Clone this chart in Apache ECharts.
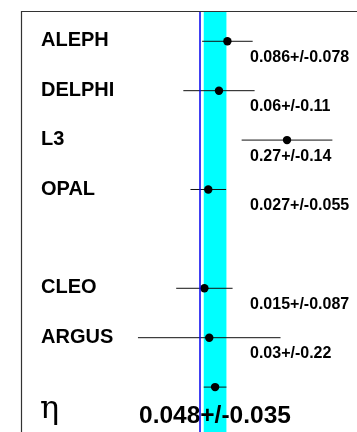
<!DOCTYPE html>
<html>
<head>
<meta charset="utf-8">
<script src="https://cdn.jsdelivr.net/npm/echarts@6/dist/echarts.min.js"></script>
<style>
  html, body { margin: 0; padding: 0; background: #fff; }
  #chart { width: 357px; height: 432px; }
</style>
</head>
<body>
<div id="chart"></div>
<script>
// Measurements of the eta parameter by experiment, with the combined average
const experiments = ['ALEPH', 'DELPHI', 'L3', 'OPAL', 'CLEO', 'ARGUS'];
const values = [0.086, 0.06, 0.27, 0.027, 0.015, 0.03];
const errors = [0.078, 0.11, 0.14, 0.055, 0.087, 0.22];
const rows = [0, 1, 2, 3, 5, 6];          // row 4 is left empty as a spacer

const averageValue = 0.048;
const averageError = 0.035;
const averageRow = 7;
const quantity = 'η';

const xRange = [-0.551, 0.486];
const yRange = [-0.613, 7.909];

const sansBold = 'bold 20px "Liberation Sans", Arial, Helvetica, sans-serif';
const valueFont = 'bold 16px "Liberation Sans", Arial, Helvetica, sans-serif';
const avgFont = 'bold 24.5px "Liberation Sans", Arial, Helvetica, sans-serif';
const symbolFont = '32px "DejaVu Serif", "Liberation Serif", serif';

const fmt = (v, e) => String(v) + '+/-' + String(e);

const measurementData = experiments.map((name, i) => [values[i], rows[i], errors[i], name]);

function drawMeasurement(params, api) {
  const v = api.value(0), row = api.value(1), err = api.value(2);
  const name = experiments[params.dataIndex];
  const c = api.coord([v, row]);
  const lo = api.coord([v - err, row]);
  const hi = api.coord([v + err, row]);
  return {
    type: 'group',
    children: [
      { type: 'line', shape: { x1: lo[0], y1: c[1], x2: hi[0], y2: c[1] },
        style: { stroke: '#111', lineWidth: 1 } },
      { type: 'circle', shape: { cx: c[0], cy: c[1], r: 4.2 }, style: { fill: '#000' } },
      { type: 'text', style: { text: name, x: 41, y: c[1] - 0.5, font: sansBold,
          fill: '#000', align: 'left', verticalAlign: 'middle' } },
      { type: 'text', style: { text: fmt(values[params.dataIndex], err), x: 250, y: c[1] + 16.3,
          font: valueFont, fill: '#000', align: 'left', verticalAlign: 'middle' } }
    ]
  };
}

function drawAverage(params, api) {
  const v = api.value(0), row = api.value(1), err = api.value(2);
  const c = api.coord([v, row]);
  const lo = api.coord([v - err, row]);
  const hi = api.coord([v + err, row]);
  return {
    type: 'group',
    children: [
      { type: 'line', shape: { x1: lo[0], y1: c[1], x2: hi[0], y2: c[1] },
        style: { stroke: '#111', lineWidth: 1 } },
      { type: 'circle', shape: { cx: c[0], cy: c[1], r: 4.2 }, style: { fill: '#000' } },
      { type: 'text', style: { text: quantity, x: 40, y: c[1] + 23,
          font: symbolFont, fill: '#000', align: 'left', verticalAlign: 'middle' } },
      { type: 'text', style: { text: fmt(averageValue, averageError), x: 139, y: c[1] + 29,
          font: avgFont, fill: '#000', align: 'left', verticalAlign: 'middle' } }
    ]
  };
}

const chart = echarts.init(document.getElementById('chart'), null, { renderer: 'canvas' });
chart.setOption({
  animation: false,
  backgroundColor: '#fff',
  grid: { left: 21, right: 0, top: 11, bottom: 0 },
  xAxis: { type: 'value', min: xRange[0], max: xRange[1], show: false },
  yAxis: { type: 'value', min: yRange[0], max: yRange[1], inverse: true, show: false },
  graphic: [
    { type: 'line', z: 100, shape: { x1: 21.5, y1: 11, x2: 21.5, y2: 432 },
      style: { stroke: '#333', lineWidth: 1.2 } },
    { type: 'line', z: 100, shape: { x1: 21, y1: 11.5, x2: 357, y2: 11.5 },
      style: { stroke: '#333', lineWidth: 1.2 } }
  ],
  series: [
    {
      type: 'custom',
      name: 'average',
      renderItem: drawAverage,
      data: [[averageValue, averageRow, averageError]],
      z: 3,
      silent: true,
      markArea: {
        silent: true,
        itemStyle: { color: '#00ffff', opacity: 1 },
        data: [[{ xAxis: averageValue - averageError }, { xAxis: averageValue + averageError }]]
      },
      markLine: {
        silent: true,
        symbol: 'none',
        label: { show: false },
        lineStyle: { color: '#0000ee', width: 1.5, type: 'solid' },
        data: [{ xAxis: 0 }]
      }
    },
    {
      type: 'custom',
      name: 'measurements',
      renderItem: drawMeasurement,
      data: measurementData,
      z: 4,
      silent: true
    }
  ]
});
</script>
</body>
</html>
